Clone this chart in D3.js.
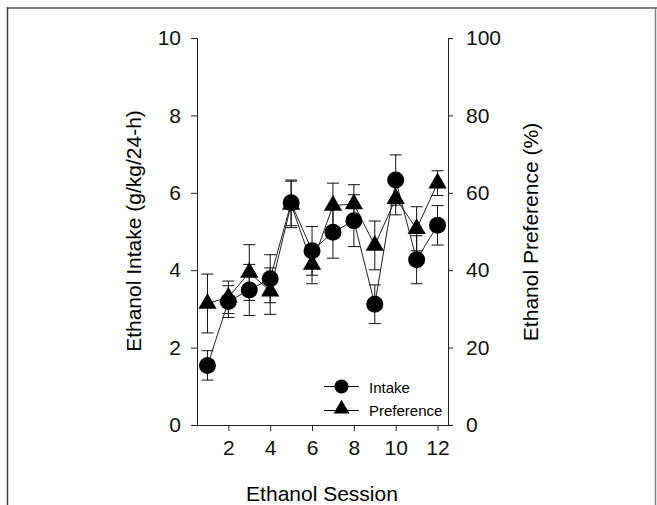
<!DOCTYPE html>
<html>
<head>
<meta charset="utf-8">
<script src="https://cdn.jsdelivr.net/npm/d3@7"></script>
<style>
    body { margin: 0; background: #fff; }
    svg { display: block; font-family: "Liberation Sans", Arial, sans-serif; }
    .axis path, .axis line { stroke: #222; stroke-width: 1; }
    .axis text { font-size: 21px; fill: #111; }
</style>
</head>
<body>
<div id="chart"></div>
<script>
// values
const sessions = [1, 2, 3, 4, 5, 6, 7, 8, 9, 10, 11, 12];
const intake = [1.54, 3.19, 3.49, 3.78, 5.74, 4.50, 4.98, 5.28, 3.12, 6.33, 4.27, 5.16];
const intakeErr = [0.38, 0.41, 0.66, 0.62, 0.59, 0.63, 0.67, 0.67, 0.50, 0.65, 0.62, 0.51];
const preference = [31.4, 33.0, 39.4, 34.6, 57.0, 41.5, 56.7, 57.1, 46.4, 58.5, 50.7, 62.5];
const preferenceErr = [7.6, 4.2, 7.2, 6.0, 6.0, 5.0, 5.8, 5.0, 6.3, 4.2, 5.7, 3.2];
const xTicks = [2, 4, 6, 8, 10, 12];
const leftTicks = [0, 2, 4, 6, 8, 10];
const rightTicks = [0, 20, 40, 60, 80, 100];

const width = 657, height = 505;

const svg = d3.select('#chart').append('svg')
    .attr('width', width)
    .attr('height', height);

// outer frame
svg.append('line').attr('x1', 8).attr('x2', width).attr('y1', 8).attr('y2', 8)
    .attr('stroke', '#808080').attr('stroke-width', 2);
svg.append('line').attr('x1', 7.5).attr('x2', 7.5).attr('y1', 7).attr('y2', height)
    .attr('stroke', '#404040').attr('stroke-width', 1.5);
svg.append('line').attr('x1', 655.5).attr('x2', 655.5).attr('y1', 7).attr('y2', height)
    .attr('stroke', '#808080').attr('stroke-width', 1.5);

// scales
const x = d3.scaleLinear().domain([0.5, 12.5]).range([197, 448]);
const yL = d3.scaleLinear().domain([0, 10]).range([425, 38]);
const yR = d3.scaleLinear().domain([0, 100]).range([425, 38]);

// axes
svg.append('g').attr('class', 'axis')
    .attr('transform', 'translate(0,425)')
    .call(d3.axisBottom(x).tickValues(xTicks).tickSize(6).tickSizeOuter(0).tickPadding(9));

svg.append('g').attr('class', 'axis')
    .attr('transform', 'translate(197,0)')
    .call(d3.axisLeft(yL).tickValues(leftTicks).tickSize(6).tickSizeOuter(0).tickPadding(10));

svg.append('g').attr('class', 'axis')
    .attr('transform', 'translate(448,0)')
    .call(d3.axisRight(yR).tickValues(rightTicks).tickSize(5).tickSizeOuter(0).tickPadding(13));

svg.selectAll('.axis .domain').attr('stroke', '#222');

// axis titles
svg.append('text')
    .attr('transform', 'translate(141,231) rotate(-90)')
    .attr('text-anchor', 'middle')
    .style('font-size', '21px')
    .text('Ethanol Intake (g/kg/24-h)');

svg.append('text')
    .attr('transform', 'translate(538,232) rotate(-90)')
    .attr('text-anchor', 'middle')
    .style('font-size', '21px')
    .text('Ethanol Preference (%)');

svg.append('text')
    .attr('x', 322)
    .attr('y', 501)
    .attr('text-anchor', 'middle')
    .style('font-size', '21px')
    .text('Ethanol Session');

// series setup
const prefData = sessions.map((s, i) => ({x: s, y: yR(preference[i]), top: yR(preference[i] + preferenceErr[i]), bot: yR(preference[i] - preferenceErr[i])}));
const intakeData = sessions.map((s, i) => ({x: s, y: yL(intake[i]), top: yL(intake[i] + intakeErr[i]), bot: yL(intake[i] - intakeErr[i])}));

const line = d3.line().x(d => x(d.x)).y(d => d.y);
const capW = 6;
const triangle = d3.symbol().type(d3.symbolTriangle).size(145);

function drawErrors(data) {
    const g = svg.append('g').attr('stroke', '#111').attr('stroke-width', 1).attr('fill', 'none');
    data.forEach(d => {
        const cx = x(d.x);
        g.append('line').attr('x1', cx).attr('x2', cx).attr('y1', d.top).attr('y2', d.bot);
        g.append('line').attr('x1', cx - capW).attr('x2', cx + capW).attr('y1', d.top).attr('y2', d.top);
        g.append('line').attr('x1', cx - capW).attr('x2', cx + capW).attr('y1', d.bot).attr('y2', d.bot);
    });
}

drawErrors(prefData);
drawErrors(intakeData);

// connecting lines
svg.append('path').datum(prefData)
    .attr('d', line).attr('fill', 'none').attr('stroke', '#222').attr('stroke-width', 1);
svg.append('path').datum(intakeData)
    .attr('d', line).attr('fill', 'none').attr('stroke', '#222').attr('stroke-width', 1);

// markers
svg.selectAll('.tri')
    .data(prefData)
    .enter().append('path')
    .attr('class', 'tri')
    .attr('d', triangle)
    .attr('transform', d => `translate(${x(d.x)},${d.y})`)
    .attr('fill', '#000');

svg.selectAll('.dot')
    .data(intakeData)
    .enter().append('circle')
    .attr('class', 'dot')
    .attr('cx', d => x(d.x))
    .attr('cy', d => d.y)
    .attr('r', 8.5)
    .attr('fill', '#000');

// legend
const legend = svg.append('g').attr('transform', 'translate(324,0)');

legend.append('line').attr('x1', 0).attr('x2', 35).attr('y1', 386.5).attr('y2', 386.5)
    .attr('stroke', '#000').attr('stroke-width', 1);
legend.append('circle').attr('cx', 17.5).attr('cy', 386.5).attr('r', 7).attr('fill', '#000');
legend.append('text').attr('x', 45).attr('y', 392.5).style('font-size', '15px').text('Intake');

legend.append('line').attr('x1', 0).attr('x2', 35).attr('y1', 410.5).attr('y2', 410.5)
    .attr('stroke', '#000').attr('stroke-width', 1);
legend.append('path').attr('d', d3.symbol().type(d3.symbolTriangle).size(110))
    .attr('transform', 'translate(17.5,409)').attr('fill', '#000');
legend.append('text').attr('x', 45).attr('y', 415.5).style('font-size', '15px').text('Preference');
</script>
</body>
</html>
